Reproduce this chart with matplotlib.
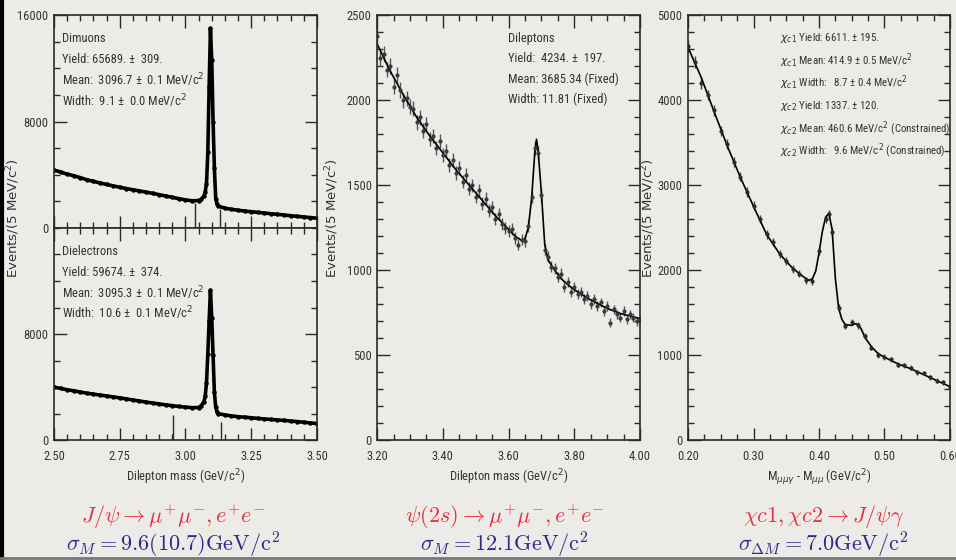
import numpy as np
import matplotlib.pyplot as plt
from matplotlib import font_manager
from matplotlib.ticker import MultipleLocator

# pick a condensed font if we have one
_names = {f.name for f in font_manager.fontManager.ttflist}
NARROW = next((n for n in ['Liberation Sans Narrow', 'Roboto Condensed', 'Liberation Sans']
               if n in _names), 'DejaVu Sans')

BG = '#edebe8'
INK = '#2a2a2a'
RED = '#e5323c'
BLUE = '#2a2c8c'

# J/psi -> mumu (events / 5 MeV)
mu_mass = [2.500, 2.525, 2.550, 2.575, 2.600, 2.625, 2.650, 2.675, 2.700, 2.725,
           2.750, 2.775, 2.800, 2.825, 2.850, 2.875, 2.900, 2.925, 2.950, 2.975,
           3.000, 3.025, 3.050, 3.060, 3.070, 3.075, 3.080, 3.085, 3.090, 3.095,
           3.100, 3.105, 3.110, 3.115, 3.120, 3.125, 3.150, 3.175, 3.200, 3.225,
           3.250, 3.275, 3.300, 3.325, 3.350, 3.375, 3.400, 3.425, 3.450, 3.475, 3.500]
mu_events = [4350, 4200, 4050, 3920, 3780, 3620, 3500, 3380, 3270, 3160,
             3060, 2960, 2870, 2780, 2690, 2600, 2500, 2400, 2300, 2200,
             2110, 2040, 2060, 2150, 2400, 2700, 3300, 5700, 10600, 15000,
             12600, 8000, 4500, 2200, 1800, 1650, 1480, 1400, 1330, 1270,
             1220, 1170, 1120, 1070, 1020, 970, 920, 870, 820, 780, 730]

# J/psi -> ee
ee_mass = mu_mass
ee_events = [4000, 3900, 3800, 3720, 3630, 3540, 3470, 3400, 3330, 3260,
             3190, 3110, 3030, 2950, 2870, 2800, 2730, 2660, 2600, 2540,
             2490, 2450, 2460, 2600, 2900, 3300, 4300, 6500, 9000, 11300,
             9200, 6400, 3600, 2500, 2150, 2000, 1900, 1830, 1770, 1730,
             1690, 1640, 1600, 1560, 1520, 1490, 1440, 1400, 1350, 1300, 1250]

# psi(2s) dileptons: data
psi_mass = [3.20, 3.21, 3.22, 3.23, 3.24, 3.25, 3.26, 3.27, 3.28, 3.29,
            3.30, 3.31, 3.32, 3.33, 3.34, 3.35, 3.36, 3.37, 3.38, 3.39,
            3.40, 3.41, 3.42, 3.43, 3.44, 3.45, 3.46, 3.47, 3.48, 3.49,
            3.50, 3.51, 3.52, 3.53, 3.54, 3.55, 3.56, 3.57, 3.58, 3.59,
            3.60, 3.61, 3.62, 3.63, 3.64, 3.65, 3.66, 3.67, 3.68, 3.69,
            3.70, 3.71, 3.72, 3.73, 3.74, 3.75, 3.76, 3.77, 3.78, 3.79,
            3.80, 3.81, 3.82, 3.83, 3.84, 3.85, 3.86, 3.87, 3.88, 3.89,
            3.90, 3.91, 3.92, 3.93, 3.94, 3.95, 3.96, 3.97, 3.98, 3.99, 4.00]
psi_events = [2380, 2250, 2270, 2180, 2200, 2080, 2150, 2060, 2000, 2010,
              1960, 1950, 1870, 1900, 1820, 1860, 1770, 1790, 1720, 1760,
              1680, 1700, 1620, 1650, 1570, 1600, 1520, 1560, 1480, 1500,
              1430, 1470, 1390, 1420, 1350, 1370, 1300, 1330, 1270, 1250,
              1230, 1240, 1190, 1150, 1180, 1170, 1260, 1430, 1720, 1690,
              1440, 1120, 1080, 1020, 1010, 960, 980, 900, 930, 870,
              900, 860, 870, 830, 850, 800, 830, 790, 810, 760,
              790, 690, 770, 740, 720, 760, 710, 740, 720, 700, 710]
# psi(2s) fit
psi_fit_mass = [3.20, 3.22, 3.24, 3.26, 3.28, 3.30, 3.32, 3.34, 3.36, 3.38,
                3.40, 3.42, 3.44, 3.46, 3.48, 3.50, 3.52, 3.54, 3.56, 3.58,
                3.60, 3.62, 3.64, 3.65, 3.66, 3.67, 3.68, 3.685, 3.69, 3.70,
                3.71, 3.72, 3.74, 3.76, 3.78, 3.80, 3.82, 3.84, 3.86, 3.88,
                3.90, 3.92, 3.94, 3.96, 3.98, 4.00]
psi_fit = [2330, 2250, 2170, 2100, 2030, 1965, 1900, 1845, 1790, 1740,
           1690, 1640, 1590, 1545, 1500, 1455, 1410, 1365, 1320, 1280,
           1240, 1200, 1175, 1185, 1250, 1420, 1700, 1770, 1700, 1450,
           1150, 1060, 1000, 950, 915, 885, 860, 835, 815, 795,
           775, 760, 745, 735, 725, 715]

# chi_c -> J/psi gamma: data
chi_dm = [0.20, 0.21, 0.22, 0.23, 0.24, 0.25, 0.26, 0.27, 0.28, 0.29,
          0.30, 0.31, 0.32, 0.33, 0.34, 0.35, 0.36, 0.37, 0.38, 0.39,
          0.40, 0.41, 0.415, 0.42, 0.43, 0.44, 0.45, 0.46, 0.47, 0.48, 0.49,
          0.50, 0.51, 0.52, 0.53, 0.54, 0.55, 0.56, 0.57, 0.58, 0.59, 0.60]
chi_events = [4640, 4450, 4200, 4060, 3880, 3640, 3480, 3270, 3100, 2920,
              2760, 2600, 2420, 2330, 2190, 2110, 2010, 1960, 1880, 1870,
              2230, 2600, 2660, 2450, 1560, 1340, 1390, 1350, 1220, 1090, 1000,
              980, 950, 890, 880, 850, 800, 790, 740, 700, 680, 630]
chi_fit_dm = [0.20, 0.22, 0.24, 0.26, 0.28, 0.30, 0.32, 0.34, 0.36, 0.37,
              0.38, 0.385, 0.39, 0.395, 0.40, 0.405, 0.41, 0.415, 0.42, 0.425,
              0.43, 0.435, 0.44, 0.45, 0.455, 0.46, 0.465, 0.47, 0.48, 0.49,
              0.50, 0.52, 0.54, 0.56, 0.58, 0.60]
chi_fit = [4620, 4270, 3860, 3460, 3090, 2750, 2420, 2190, 2020, 1960,
           1900, 1880, 1900, 1990, 2200, 2450, 2620, 2670, 2480, 1900,
           1550, 1420, 1360, 1350, 1370, 1360, 1300, 1210, 1100, 1020,
           975, 900, 840, 770, 700, 630]

mu_marks = [3.036, 3.131]
ee_marks = [2.951, 3.135]

mu_text = ['Dimuons', 'Yield: 65689. \u00b1  309.',
           'Mean:  3096.7 \u00b1  0.1 MeV/c$^2$', 'Width:  9.1 \u00b1  0.0 MeV/c$^2$']
ee_text = ['Dielectrons', 'Yield: 59674. \u00b1  374.',
           'Mean:  3095.3 \u00b1  0.1 MeV/c$^2$', 'Width:  10.6 \u00b1  0.1 MeV/c$^2$']
psi_text = ['Dileptons', 'Yield:  4234. \u00b1  197.', 'Mean: 3685.34 (Fixed)', 'Width: 11.81 (Fixed)']
chi_text = ['$\\chi_{c1}$ Yield: 6611. \u00b1 195.',
            '$\\chi_{c1}$ Mean: 414.9 \u00b1 0.5 MeV/c$^2$',
            '$\\chi_{c1}$ Width:   8.7 \u00b1 0.4 MeV/c$^2$',
            '$\\chi_{c2}$ Yield: 1337. \u00b1 120.',
            '$\\chi_{c2}$ Mean: 460.6 MeV/c$^2$ (Constrained)',
            '$\\chi_{c2}$ Width:   9.6 MeV/c$^2$ (Constrained)']

captions = [
    (r'$J/\psi \rightarrow \mu^{+}\mu^{-}, e^{+}e^{-}$', r'$\sigma_{M} = 9.6(10.7)\mathrm{GeV/c^{2}}$'),
    (r'$\psi(2s) \rightarrow \mu^{+}\mu^{-}, e^{+}e^{-}$', r'$\sigma_{M} = 12.1\mathrm{GeV/c^{2}}$'),
    (r'$\chi c1, \chi c2 \rightarrow J/\psi\gamma$', r'$\sigma_{\Delta M} = 7.0\mathrm{GeV/c^{2}}$'),
]

plt.rcParams['font.family'] = [NARROW, 'DejaVu Sans']
plt.rcParams['axes.linewidth'] = 1.2
plt.rcParams['axes.edgecolor'] = INK

fig = plt.figure(figsize=(9.56, 5.60), dpi=100, facecolor=BG)

ax_mu = fig.add_axes([0.0565, 0.593, 0.275, 0.380])
ax_ee = fig.add_axes([0.0565, 0.214, 0.275, 0.379])
ax_psi = fig.add_axes([0.3945, 0.214, 0.275, 0.759])
ax_chi = fig.add_axes([0.7197, 0.214, 0.274, 0.759])


def style(ax, xmaj, xmin, ymaj, ymin):
    ax.set_facecolor(BG)
    ax.xaxis.set_major_locator(MultipleLocator(xmaj))
    ax.xaxis.set_minor_locator(MultipleLocator(xmin))
    ax.yaxis.set_major_locator(MultipleLocator(ymaj))
    ax.yaxis.set_minor_locator(MultipleLocator(ymin))
    ax.tick_params(which='both', direction='in', top=True, right=True,
                   colors=INK, labelsize=9, width=1)
    ax.tick_params(which='major', length=9)
    ax.tick_params(which='minor', length=4.5)
    ax.tick_params(axis='x', pad=7)
    ax.tick_params(axis='y', pad=4)
    for lab in ax.get_xticklabels() + ax.get_yticklabels():
        lab.set_color('#333333')


# left panels
for ax, m, ev, marks, txt in [(ax_mu, mu_mass, mu_events, mu_marks, mu_text),
                              (ax_ee, ee_mass, ee_events, ee_marks, ee_text)]:
    ax.plot(m, ev, color='black', lw=2.6, solid_joinstyle='round')
    ax.plot(m, ev, 'o', color='black', ms=2.2)
    ax.vlines(marks, 0, [1900, 1400], color=INK, lw=1)
    ax.set_xlim(2.5, 3.5)
    ax.set_ylim(0, 16000)
    style(ax, 0.25, 0.05, 8000, 2000)
    ax.xaxis.set_major_formatter(plt.FuncFormatter(lambda v, p: f'{v:.2f}'))
    for i, t in enumerate(txt):
        ax.text(0.03, 0.89 - i * 0.098, t, transform=ax.transAxes, fontsize=9,
                color='#333333', va='center')

ax_mu.tick_params(labelbottom=False)
ax_ee.set_yticks([0, 8000])
ax_ee.set_xlabel('Dilepton mass (GeV/c$^2$)', fontsize=9, color='#333333', labelpad=3)

# middle panel
ax_psi.errorbar(psi_mass, psi_events, yerr=np.sqrt(psi_events), fmt='o', ms=2,
                color='#3a3a3a', ecolor='#555555', elinewidth=1, capsize=0)
ax_psi.plot(psi_fit_mass, psi_fit, color='black', lw=1.2)
ax_psi.set_xlim(3.2, 4.0)
ax_psi.set_ylim(0, 2500)
style(ax_psi, 0.2, 0.05, 500, 100)
ax_psi.xaxis.set_major_formatter(plt.FuncFormatter(lambda v, p: f'{v:.2f}'))
ax_psi.set_xlabel('Dilepton mass (GeV/c$^2$)', fontsize=9, color='#333333', labelpad=3)
for i, t in enumerate(psi_text):
    ax_psi.text(0.498, 0.946 - i * 0.048, t, transform=ax_psi.transAxes, fontsize=9,
                color='#333333', va='center')

# right panel
ax_chi.errorbar(chi_dm, chi_events, yerr=np.sqrt(chi_events), fmt='o', ms=2,
                color='#2a2a2a', ecolor='#444444', elinewidth=1, capsize=0)
ax_chi.plot(chi_fit_dm, chi_fit, color='black', lw=1.2)
ax_chi.set_xlim(0.2, 0.6)
ax_chi.set_ylim(0, 5000)
style(ax_chi, 0.1, 0.025, 1000, 200)
ax_chi.xaxis.set_major_formatter(plt.FuncFormatter(lambda v, p: f'{v:.2f}'))
ax_chi.set_xlabel('M$_{\\mu\\mu\\gamma}$ - M$_{\\mu\\mu}$ (GeV/c$^2$)', fontsize=9,
                  color='#333333', labelpad=3)
for i, t in enumerate(chi_text):
    ax_chi.text(0.35, 0.946 - i * 0.053, t, transform=ax_chi.transAxes, fontsize=7.8,
                color='#333333', va='center')

# y titles
for x, y in [(0.014, 0.61), (0.347, 0.61), (0.678, 0.61)]:
    fig.text(x, y, 'Events/(5 MeV/c$^2$)', rotation=90, ha='center', va='center',
             fontsize=9.5, color='#333333', family='DejaVu Sans')

# captions under the panels
for cx, (top, bot) in zip([0.181, 0.528, 0.861], captions):
    fig.text(cx, 0.077, top, ha='center', va='center', fontsize=16, color=RED,
             math_fontfamily='cm')
    fig.text(cx, 0.027, bot, ha='center', va='center', fontsize=16, color=BLUE,
             math_fontfamily='cm')

# frame lines of the slide
fig.add_artist(plt.Line2D([0.002, 0.002], [0, 1], color='black', lw=3, transform=fig.transFigure))
fig.add_artist(plt.Line2D([0, 1], [0.004, 0.004], color='#777777', lw=2, transform=fig.transFigure))

fig.savefig('out.png', dpi=100, facecolor=BG)
